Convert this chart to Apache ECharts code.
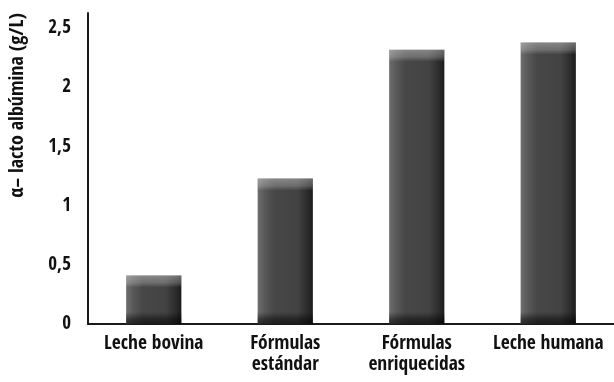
<!DOCTYPE html>
<html>
<head>
<meta charset="utf-8">
<script src="https://cdn.jsdelivr.net/npm/echarts@6/dist/echarts.min.js"></script>
<style>
  html, body { margin: 0; padding: 0; background: #fff; }
  #chart { width: 614px; height: 382px; }
</style>
</head>
<body>
<div id="chart"></div>
<script>
// α-lactoalbumin content by milk type (g/L)
const categories = ['Leche bovina', 'Fórmulas\nestándar', 'Fórmulas\nenriquecidas', 'Leche humana'];
const values = [0.41, 1.23, 2.32, 2.38];
const yTicks = [0, 0.5, 1, 1.5, 2, 2.5];
const yTitle = 'α– lacto albúmina (g/L)';

const FONT = "'Open Sans Condensed', 'DejaVu Sans Condensed', sans-serif";

const chart = echarts.init(document.getElementById('chart'), null, { renderer: 'canvas' });

function renderBar(params, api) {
  const idx = api.value(0);
  const top = api.coord([idx, api.value(1)]);
  const base = api.coord([idx, 0]);
  const band = api.size([1, 0])[0];
  const w = band * 0.42;
  const x = top[0] - w / 2;
  const y = top[1];
  const h = base[1] - top[1];
  const capH = Math.min(12, h / 3);
  const footH = Math.min(12, h / 3);
  return {
    type: 'group',
    children: [
      {
        type: 'rect',
        shape: { x: x, y: y, width: w, height: h },
        style: {
          fill: new echarts.graphic.LinearGradient(0, 0, 1, 0, [
            { offset: 0, color: '#6e6e6e' },
            { offset: 0.12, color: '#5a5a5a' },
            { offset: 0.3, color: '#474747' },
            { offset: 0.72, color: '#434343' },
            { offset: 0.9, color: '#2c2c2c' },
            { offset: 1, color: '#1c1c1c' }
          ])
        }
      },
      {
        type: 'rect',
        shape: { x: x, y: y, width: w, height: capH },
        style: {
          fill: new echarts.graphic.LinearGradient(0, 0, 0, 1, [
            { offset: 0, color: 'rgba(255,255,255,0.35)' },
            { offset: 0.6, color: 'rgba(255,255,255,0.22)' },
            { offset: 1, color: 'rgba(255,255,255,0)' }
          ])
        }
      },
      {
        type: 'rect',
        shape: { x: x, y: base[1] - footH, width: w, height: footH },
        style: {
          fill: new echarts.graphic.LinearGradient(0, 0, 0, 1, [
            { offset: 0, color: 'rgba(0,0,0,0)' },
            { offset: 0.6, color: 'rgba(0,0,0,0.45)' },
            { offset: 1, color: 'rgba(0,0,0,0.6)' }
          ])
        }
      }
    ]
  };
}

chart.setOption({
  animation: false,
  backgroundColor: '#ffffff',
  grid: { left: 88, top: 13, width: 534, height: 311, containLabel: false },
  xAxis: {
    type: 'category',
    data: categories,
    boundaryGap: true,
    axisLine: { lineStyle: { color: '#1a1a1a', width: 2 } },
    axisTick: { show: false },
    axisLabel: {
      interval: 0,
      color: '#111',
      fontFamily: FONT,
      fontWeight: 'bold',
      fontSize: 19.5,
      lineHeight: 21,
      margin: 9
    }
  },
  yAxis: {
    type: 'value',
    min: 0,
    max: 2.63,
    interval: 0.5,
    axisLine: { show: true, lineStyle: { color: '#1a1a1a', width: 2 } },
    axisTick: { show: false },
    splitLine: { show: false },
    axisLabel: {
      color: '#111',
      fontFamily: FONT,
      fontWeight: 'bold',
      fontSize: 19,
      margin: 17,
      formatter: function (v) {
        const t = yTicks.find(function (k) { return Math.abs(k - v) < 1e-6; });
        return t === undefined ? '' : String(t).replace('.', ',');
      }
    }
  },
  graphic: [{
    type: 'text',
    left: 8,
    top: 13,
    rotation: Math.PI / 2,
    style: {
      text: yTitle,
      fill: '#111',
      font: 'bold 20px ' + FONT
    }
  }],
  series: [{
    type: 'custom',
    renderItem: renderBar,
    encode: { x: 0, y: 1 },
    data: values.map(function (v, i) { return [i, v]; })
  }]
});
</script>
</body>
</html>
